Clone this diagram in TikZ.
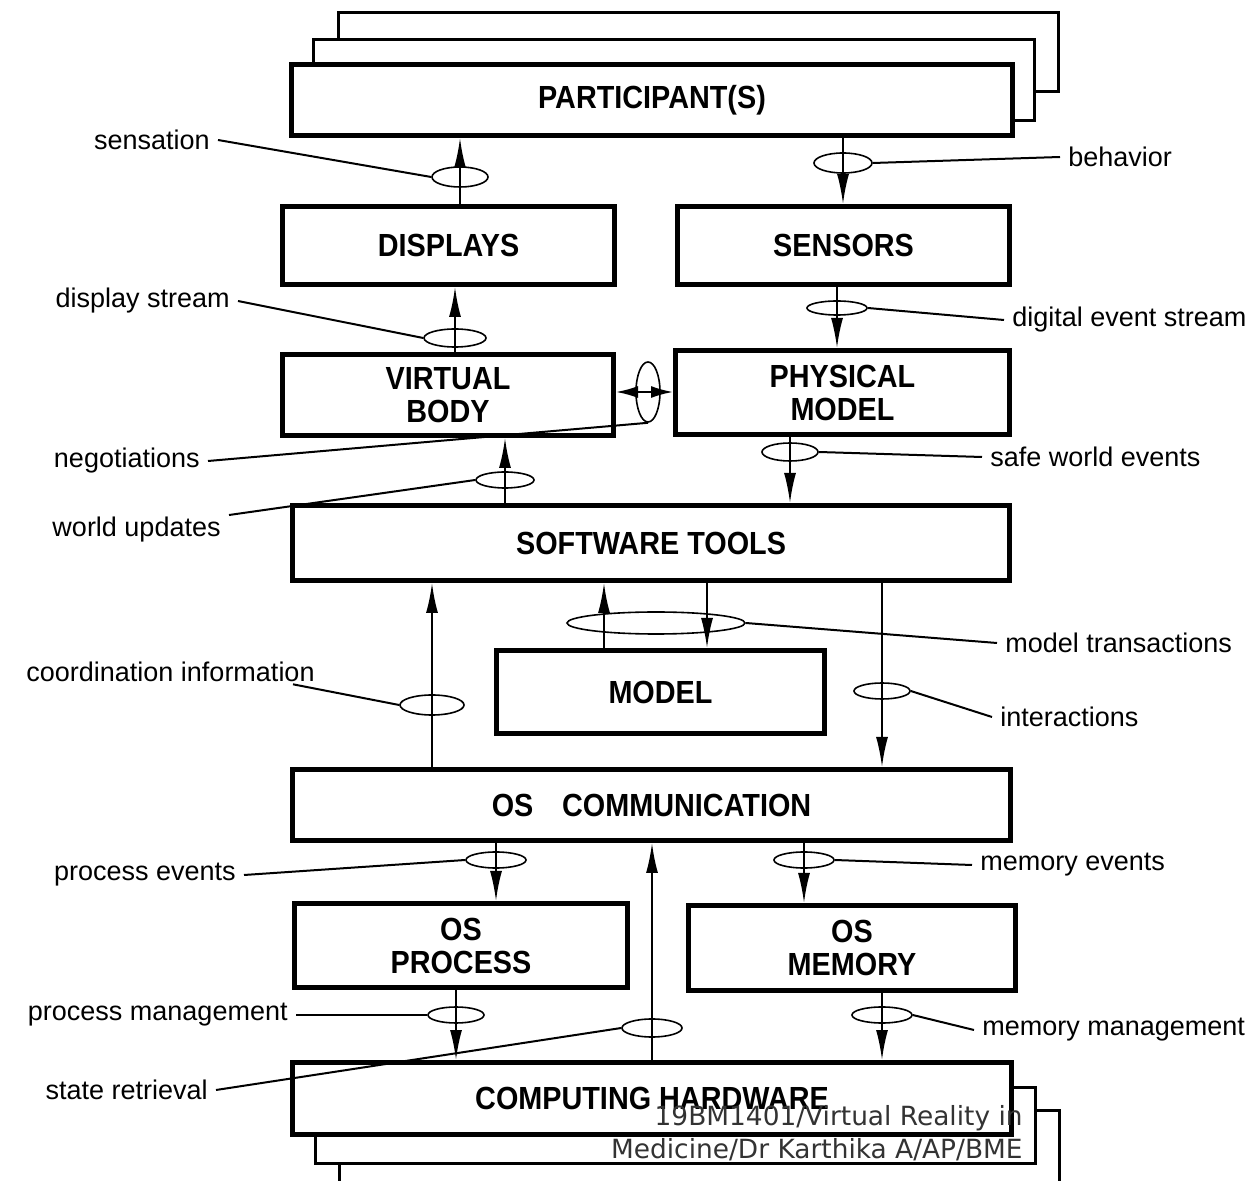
\documentclass[tikz,border=0pt]{standalone}
\usepackage{fontspec}
\setmainfont{Liberation Sans}
\newfontfamily\boxfont{Liberation Sans}[FakeStretch=0.9]
\newfontfamily\markfont{DejaVu Sans}
\usetikzlibrary{arrows.meta,shapes.geometric}

\tikzset{
  block/.style={draw, line width=2.5pt, fill=white, align=center, inner sep=0pt,
    font=\boxfont\bfseries\fontsize{16}{16.5}\selectfont},
  backbox/.style={draw, line width=1.5pt, fill=white},
  flow/.style={line width=1pt, -{Latex[length=15pt,width=6pt]}},
  bothflow/.style={line width=1pt, {Latex[length=11pt,width=6pt]}-{Latex[length=11pt,width=6pt]}},
  loopmark/.style={draw, ellipse, line width=0.8pt, inner sep=0pt},
  tag/.style={font=\fontsize{13.5}{15}\selectfont, inner xsep=4pt, inner ysep=1pt},
  lead/.style={line width=1pt},
}

\begin{document}
\begin{tikzpicture}[x=0.5pt,y=-0.5pt]
  \useasboundingbox (0,0) rectangle (1249,1181);

  \draw[backbox] (338.5,12.5) rectangle (1058.5,91.5);
  \draw[backbox] (313.5,39.5) rectangle (1034.5,120.5);
  \draw[backbox] (339.5,1110.5) rectangle (1059.5,1195);
  \draw[backbox] (315.5,1087.5) rectangle (1035.5,1163.5);

  \node[block, minimum width=360.5pt, minimum height=35.5pt] (part) at (652,100) {PARTICIPANT(S)};
  \node[block, minimum width=166pt, minimum height=39pt] (disp) at (448.5,245.5) {DISPLAYS};
  \node[block, minimum width=166pt, minimum height=39pt] (sens) at (843.5,245.5) {SENSORS};
  \node[block, minimum width=165.5pt, minimum height=40.5pt] (vbody) at (448,395) {VIRTUAL\\BODY};
  \node[block, minimum width=167pt, minimum height=42pt] (phys) at (842.5,392.5) {PHYSICAL\\MODEL};
  \node[block, minimum width=358.5pt, minimum height=37.5pt] (soft) at (651,543) {SOFTWARE TOOLS};
  \node[block, minimum width=164pt, minimum height=41.5pt] (model) at (660.5,692) {MODEL};
  \node[block, minimum width=359pt, minimum height=35.5pt] (oscomm) at (651.5,805) {OS\hspace{0.9em}COMMUNICATION};
  \node[block, minimum width=166.5pt, minimum height=42pt] (osproc) at (461,945.5) {OS\\PROCESS};
  \node[block, minimum width=163.5pt, minimum height=42.5pt] (osmem) at (852,948) {OS\\MEMORY};
  \node[block, minimum width=359.5pt, minimum height=36pt] (hw) at (652,1098.5) {COMPUTING HARDWARE};

  \node[loopmark, minimum width=28pt, minimum height=10pt] (lsens) at (460,177) {};
  \node[loopmark, minimum width=29pt, minimum height=10pt] (lbeh) at (843,163) {};
  \node[loopmark, minimum width=31pt, minimum height=9pt] (ldisp) at (455,338) {};
  \node[loopmark, minimum width=30pt, minimum height=7pt] (ldig) at (837,308) {};
  \node[loopmark, minimum width=12pt, minimum height=30pt] (lneg) at (648,392) {};
  \node[loopmark, minimum width=29pt, minimum height=8pt] (lworld) at (505,480) {};
  \node[loopmark, minimum width=28pt, minimum height=9pt] (lsafe) at (790,452) {};
  \node[loopmark, minimum width=32pt, minimum height=10pt] (lcoord) at (432,705) {};
  \node[loopmark, minimum width=89pt, minimum height=11pt] (ltrans) at (656,623) {};
  \node[loopmark, minimum width=28pt, minimum height=8pt] (linter) at (882,691) {};
  \node[loopmark, minimum width=30pt, minimum height=8pt] (lpev) at (496,860) {};
  \node[loopmark, minimum width=30pt, minimum height=9pt] (lstate) at (652,1028) {};
  \node[loopmark, minimum width=30pt, minimum height=8pt] (lmev) at (804,860) {};
  \node[loopmark, minimum width=28pt, minimum height=8pt] (lpman) at (456,1015) {};
  \node[loopmark, minimum width=30pt, minimum height=8pt] (lmman) at (882,1015) {};

  \coordinate (tup) at (604,0);
  \coordinate (tdown) at (707,0);

  \node[tag, anchor=east] (tsens) at (218,140) {sensation};
  \node[tag, anchor=east] (tdisp) at (238,301) {display stream};
  \node[tag, anchor=east] (tneg) at (208,461) {negotiations};
  \node[tag, anchor=east] (tworld) at (229,530) {world updates};
  \node[tag, anchor=east] (tcoord) at (323,672) {coordination information};
  \node[tag, anchor=east] (tpev) at (244,875) {process events};
  \node[tag, anchor=east] (tpman) at (296,1015) {process management};
  \node[tag, anchor=east] (tstate) at (216,1090) {state retrieval};
  \node[tag, anchor=west] (tbeh) at (1060,157) {behavior};
  \node[tag, anchor=west] (tdig) at (1004,320) {digital event stream};
  \node[tag, anchor=west] (tsafe) at (982,457) {safe world events};
  \node[tag, anchor=west] (ttrans) at (997,643) {model transactions};
  \node[tag, anchor=west] (tinter) at (992,717) {interactions};
  \node[tag, anchor=west] (tmev) at (972,865) {memory events};
  \node[tag, anchor=west] (tmman) at (974,1030) {memory management};

  \begin{scope}[flow]
    \draw (lsens |- disp.north) -- (lsens |- part.south);
    \draw (lbeh |- part.south) -- (lbeh |- sens.north);
    \draw (ldisp |- vbody.north) -- (ldisp |- disp.south);
    \draw (ldig |- sens.south) -- (ldig |- phys.north);
    \draw (lworld |- soft.north) -- (lworld |- vbody.south);
    \draw (lsafe |- phys.south) -- (lsafe |- soft.north);
    \draw (lcoord |- oscomm.north) -- (lcoord |- soft.south);
    \draw (tup |- model.north) -- (tup |- soft.south);
    \draw (tdown |- soft.south) -- (tdown |- model.north);
    \draw (linter |- soft.south) -- (linter |- oscomm.north);
    \draw (lpev |- oscomm.south) -- (lpev |- osproc.north);
    \draw (lstate |- hw.north) -- (lstate |- oscomm.south);
    \draw (lmev |- oscomm.south) -- (lmev |- osmem.north);
    \draw (lpman |- osproc.south) -- (lpman |- hw.north);
    \draw (lmman |- osmem.south) -- (lmman |- hw.north);
  \end{scope}
  \draw[bothflow] (vbody.east |- lneg) -- (phys.west |- lneg);

  \begin{scope}[lead]
    \draw (tsens.east) -- (lsens.west);
    \draw (tdisp.east) -- (ldisp.west);
    \draw (tneg.east) -- (lneg.south);
    \draw (lworld.west) -- (tworld.north east);
    \draw ([xshift=-15pt]tcoord.south east) -- (lcoord.west);
    \draw (tpev.east) -- (lpev.west);
    \draw (tpman.east) -- (lpman.west);
    \draw (tstate.east) -- (lstate.west);
    \draw (lbeh.east) -- (tbeh.west);
    \draw (ldig.east) -- (tdig.west);
    \draw (lsafe.east) -- (tsafe.west);
    \draw (ltrans.east) -- (ttrans.west);
    \draw (linter.east) -- (tinter.west);
    \draw (lmev.east) -- (tmev.west);
    \draw (lmman.east) -- (tmman.west);
  \end{scope}

  \node[anchor=north east, align=right, inner sep=0pt, text=black!80,
    font=\markfont\fontsize{13.2}{16.5}\selectfont] (credit) at (1023,1105)
    {19BM1401/Virtual Reality in\\Medicine/Dr Karthika A/AP/BME};
\end{tikzpicture}
\end{document}
